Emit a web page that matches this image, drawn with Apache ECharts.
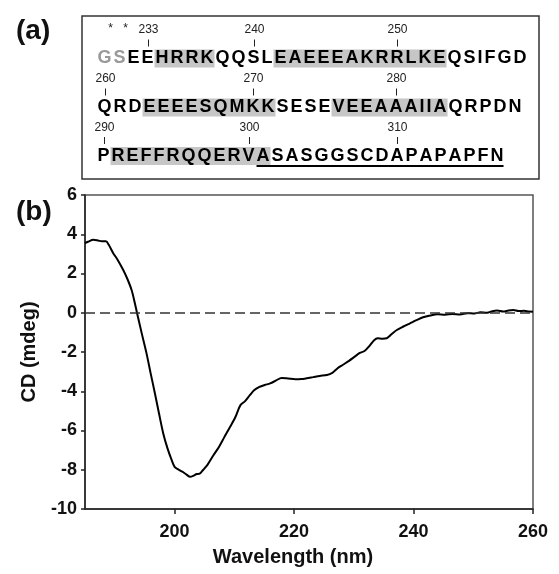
<!DOCTYPE html>
<html>
<head>
<meta charset="utf-8">
<script src="https://cdn.jsdelivr.net/npm/echarts@6/dist/echarts.min.js"></script>
<style>
  html, body { margin: 0; padding: 0; background: #fff; }
  #cdchart { width: 559px; height: 574px; }
</style>
</head>
<body>
<div id="cdchart"></div>
<script>
// CD spectrum
var wavelength = [185, 185.5, 186.4, 187.2, 187.8, 188.5, 189.0, 189.7, 190.5, 191.4, 192.1, 192.8, 193.3, 193.7,
  194.5, 195.3, 196.0, 196.7, 197.4, 198.1, 198.8, 199.5, 200.0, 200.6, 201.3, 202.0, 202.6, 203.2, 203.7, 204.2,
  204.8, 205.5, 206.5, 207.4, 208.3, 209.3, 210.2, 211.0, 211.8, 212.6, 213.3, 214.2, 215.1, 216.0, 217.0, 217.9,
  219.0, 220.2, 221.2, 222.1, 223.2, 224.3, 225.5, 226.4, 227.2, 228.2, 229.2, 230.1, 231.0, 231.8, 232.6, 233.4,
  234.0, 234.8, 235.5, 236.3, 237.2, 238.3, 239.4, 240.5, 241.6, 242.8, 244.0, 245.3, 246.5, 247.8, 249.0, 250.2,
  251.2, 252.3, 253.2, 254.0, 255.0, 255.9, 256.7, 257.6, 258.5, 259.3, 260.0];
var cd = [3.55, 3.62, 3.72, 3.68, 3.64, 3.64, 3.45, 3.05, 2.68, 2.18, 1.72, 1.16, 0.55, 0.0,
  -1.05, -2.07, -3.1, -4.1, -5.15, -6.15, -6.9, -7.5, -7.85, -7.98, -8.1, -8.25, -8.36, -8.3, -8.22, -8.2,
  -8.0, -7.75, -7.26, -6.85, -6.35, -5.81, -5.3, -4.72, -4.5, -4.2, -3.95, -3.78, -3.68, -3.6, -3.45, -3.32,
  -3.35, -3.39, -3.38, -3.34, -3.28, -3.22, -3.17, -3.06, -2.85, -2.65, -2.45, -2.25, -2.05, -1.95, -1.7, -1.4,
  -1.3, -1.32, -1.3, -1.1, -0.88, -0.7, -0.54, -0.38, -0.23, -0.14, -0.08, -0.1, -0.06, -0.09, -0.02, -0.04,
  0.03, 0.0, 0.08, 0.11, 0.06, 0.12, 0.14, 0.09, 0.1, 0.06, 0.05];
var xTicks = [200, 220, 240, 260];

// panel (a): sequence
var seqRows = ['GSEEHRRKQQSLEAEEEAKRRLKEQSIFGD', 'QRDEEEESQMKKSESEVEEAAAIIAQRPDN', 'PREFFRQQERVASASGGSCDAPAPAPFN'];
var helixRanges = [[[4, 7], [12, 23]], [[3, 11], [16, 24]], [[1, 11]]];
var tagCount = 2;              // GS from the tag, drawn grey
var underlined = [2, 11, 27];  // row, from, to
var resNumbers = [[0, 3, '233'], [0, 10, '240'], [0, 20, '250'],
  [1, 0, '260'], [1, 10, '270'], [1, 20, '280'],
  [2, 0, '290'], [2, 10, '300'], [2, 20, '310']];

var seqFont = 'bold 18px "Liberation Sans", Arial, sans-serif';
var gap = 2.0;
var rowY = [58.5, 107.5, 156];

function sequencePanel() {
    var ctx = document.createElement('canvas').getContext('2d');
    ctx.font = seqFont;
    var els = [];
    var pos = seqRows.map(function (row) {
        var x = 97.5, out = [];
        for (var i = 0; i < row.length; i++) {
            var w = ctx.measureText(row[i]).width;
            out.push([x, w]);
            x += w + gap;
        }
        return out;
    });
    els.push({type: 'rect', shape: {x: 82, y: 16, width: 457, height: 163},
        style: {fill: 'none', stroke: '#333', lineWidth: 1.5}, z: 1});
    helixRanges.forEach(function (ranges, r) {
        ranges.forEach(function (rg) {
            var a = pos[r][rg[0]], b = pos[r][rg[1]];
            els.push({type: 'rect', shape: {x: a[0] - gap / 2, y: rowY[r] - 9, width: b[0] + b[1] - a[0] + gap, height: 18},
                style: {fill: '#c6c6c6'}, z: 2});
        });
    });
    seqRows.forEach(function (row, r) {
        for (var i = 0; i < row.length; i++) {
            els.push({type: 'text', x: pos[r][i][0], y: rowY[r], z: 3,
                style: {text: row[i], font: seqFont, fill: (r === 0 && i < tagCount) ? '#999' : '#000',
                    textAlign: 'left', textVerticalAlign: 'middle'}});
        }
    });
    var u0 = pos[underlined[0]][underlined[1]], u1 = pos[underlined[0]][underlined[2]];
    els.push({type: 'rect', shape: {x: u0[0], y: rowY[underlined[0]] + 9, width: u1[0] + u1[1] - u0[0], height: 2},
        style: {fill: '#000'}, z: 3});
    resNumbers.forEach(function (n) {
        var p = pos[n[0]][n[1]], cx = Math.round(p[0] + p[1] / 2) + 0.5;
        els.push({type: 'text', x: cx, y: rowY[n[0]] - 28.5, z: 3,
            style: {text: n[2], font: '12px "Liberation Sans", Arial, sans-serif', fill: '#222',
                textAlign: 'center', textVerticalAlign: 'middle'}});
        els.push({type: 'line', shape: {x1: cx, y1: rowY[n[0]] - 19, x2: cx, y2: rowY[n[0]] - 12}, z: 3,
            style: {stroke: '#222', lineWidth: 1}});
    });
    // the two asterisks over the tag residues
    [0, 1].forEach(function (i) {
        var p = pos[0][i];
        els.push({type: 'text', x: p[0] + p[1] / 2 + 6, y: rowY[0] - 30, z: 3,
            style: {text: '*', font: '12px "Liberation Sans", Arial, sans-serif', fill: '#222',
                textAlign: 'center', textVerticalAlign: 'middle'}});
    });
    els.push({type: 'text', x: 16, y: 31, style: {text: '(a)', font: 'bold 28px "Liberation Sans", Arial, sans-serif',
        fill: '#111', textAlign: 'left', textVerticalAlign: 'middle'}});
    els.push({type: 'text', x: 16, y: 212, style: {text: '(b)', font: 'bold 28px "Liberation Sans", Arial, sans-serif',
        fill: '#111', textAlign: 'left', textVerticalAlign: 'middle'}});
    return els;
}

var myChart = echarts.init(document.getElementById('cdchart'));

var labelFont = {fontFamily: '"Liberation Sans", Arial, sans-serif', fontWeight: 'bold', fontSize: 18, color: '#111'};

var option = {
    animation: false,
    backgroundColor: '#fff',
    grid: {left: 85, right: 26, top: 195, bottom: 65, show: true, borderColor: '#555', borderWidth: 1.5},
    xAxis: {
        type: 'value', min: 185, max: 260,
        name: 'Wavelength (nm)', nameLocation: 'middle', nameGap: 38,
        nameTextStyle: {fontFamily: '"Liberation Sans", Arial, sans-serif', fontWeight: 'bold', fontSize: 20, color: '#111',
            padding: [0, 32, 0, 0]},
        axisLine: {onZero: false, lineStyle: {color: '#222', width: 1.5}},
        axisTick: {show: true, length: 5, customValues: xTicks, lineStyle: {color: '#222', width: 1.5}},
        axisLabel: Object.assign({customValues: xTicks, margin: 14}, labelFont),
        splitLine: {show: false}
    },
    yAxis: {
        type: 'value', min: -10, max: 6, interval: 2,
        name: 'CD (mdeg)', nameLocation: 'middle', nameGap: 46,
        nameTextStyle: {fontFamily: '"Liberation Sans", Arial, sans-serif', fontWeight: 'bold', fontSize: 20, color: '#111'},
        axisLine: {show: true, lineStyle: {color: '#222', width: 1.5}},
        axisTick: {show: true, length: 4, lineStyle: {color: '#222', width: 1.5}},
        axisLabel: Object.assign({margin: 8}, labelFont),
        splitLine: {show: false}
    },
    graphic: {elements: sequencePanel()},
    series: [{
        type: 'line',
        data: wavelength.map(function (w, i) { return [w, cd[i]]; }),
        showSymbol: false,
        smooth: 0.3,
        lineStyle: {color: '#000', width: 2},
        markLine: {
            silent: true, symbol: ['none', 'none'], label: {show: false},
            lineStyle: {color: '#333', type: [10, 5], width: 1.5},
            data: [{yAxis: 0}]
        }
    }]
};
myChart.setOption(option);
</script>
</body>
</html>
